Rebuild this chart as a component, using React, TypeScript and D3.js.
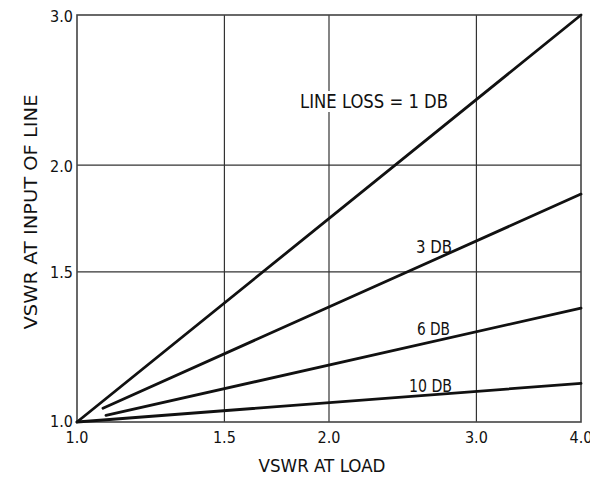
import React from "react";
import * as d3 from "d3";

// Data
const xTicks = [1.0, 1.5, 2.0, 3.0, 4.0];
const yTicks = [1.0, 1.5, 2.0, 3.0];
const lossNames = ["LINE LOSS = 1 DB", "3 DB", "6 DB", "10 DB"];
const loadVswr = [
  [1.0, 4.0],
  [1.074, 4.0],
  [1.083, 4.0],
  [1.0, 4.0],
];
const inputVswr = [
  [1.0, 3.0],
  [1.038, 1.85],
  [1.018, 1.36],
  [1.0, 1.11],
];

const W = 590;
const H = 477;
const left = 77, right = 581, top = 15, bottom = 422;
const FONT = "'Liberation Sans Narrow', 'DejaVu Sans Condensed', 'DejaVu Sans', sans-serif";

// label layout (pixel positions)
const labelPos = [
  { x: 300, y: 108, len: 148, size: 19 },
  { x: 416, y: 253, len: 36, size: 18 },
  { x: 417, y: 335, len: 33, size: 18 },
  { x: 409, y: 392, len: 43, size: 18 },
];

export default function App() {
  const x = d3.scaleLog().domain([1, 4]).range([left, right]);
  const y = d3.scaleLog().domain([1, 3]).range([bottom, top]);
  const line = d3
    .line<[number, number]>()
    .x((d) => x(d[0]))
    .y((d) => y(d[1]));

  return (
    <svg
      width={W}
      height={H}
      style={{ position: "absolute", left: 0, top: 0, background: "#fff" }}
      fontFamily={FONT}
    >
      <rect x={0} y={0} width={W} height={H} fill="#fff" />
      {/* grid */}
      {xTicks.slice(1, -1).map((t) => (
        <line key={"gx" + t} x1={x(t)} x2={x(t)} y1={top} y2={bottom} stroke="#333" strokeWidth={1.2} />
      ))}
      {yTicks.slice(1, -1).map((t) => (
        <line key={"gy" + t} x1={left} x2={right} y1={y(t)} y2={y(t)} stroke="#333" strokeWidth={1.2} />
      ))}
      {/* frame */}
      <rect x={left} y={top} width={right - left} height={bottom - top} fill="none" stroke="#444" strokeWidth={1.6} />

      {/* label background for main label */}
      <rect x={labelPos[0].x - 3} y={labelPos[0].y - 17} width={labelPos[0].len + 6} height={21} fill="#fff" />

      {/* curves */}
      {lossNames.map((n, i) => {
        const pts: [number, number][] = loadVswr[i].map((v, j) => [v, inputVswr[i][j]]);
        return <path key={n} d={line(pts) || ""} fill="none" stroke="#111" strokeWidth={2.8} strokeLinecap="round" />;
      })}

      {/* curve labels */}
      {lossNames.map((n, i) => (
        <text
          key={"l" + n}
          x={labelPos[i].x}
          y={labelPos[i].y}
          fontSize={labelPos[i].size}
          textLength={labelPos[i].len}
          lengthAdjust="spacingAndGlyphs"
          fill="#111"
        >
          {n}
        </text>
      ))}

      {/* x tick labels */}
      {xTicks.map((t) => (
        <text key={"xt" + t} x={x(t)} y={443} fontSize={16} textAnchor="middle" fill="#111">
          {t.toFixed(1)}
        </text>
      ))}
      {/* y tick labels */}
      {yTicks.map((t) => (
        <text key={"yt" + t} x={73} y={y(t) + (t === 1 ? 0 : 2)} fontSize={16} textAnchor="end" dominantBaseline="middle" fill="#111">
          {t.toFixed(1)}
        </text>
      ))}

      {/* axis titles */}
      <text x={322} y={472} fontSize={17} textAnchor="middle" textLength={127} lengthAdjust="spacingAndGlyphs" fill="#111">
        VSWR AT LOAD
      </text>
      <text
        transform={`translate(37,212) rotate(-90)`}
        fontSize={17}
        textAnchor="middle"
        textLength={235}
        lengthAdjust="spacingAndGlyphs"
        fill="#111"
      >
        VSWR AT INPUT OF LINE
      </text>
    </svg>
  );
}
